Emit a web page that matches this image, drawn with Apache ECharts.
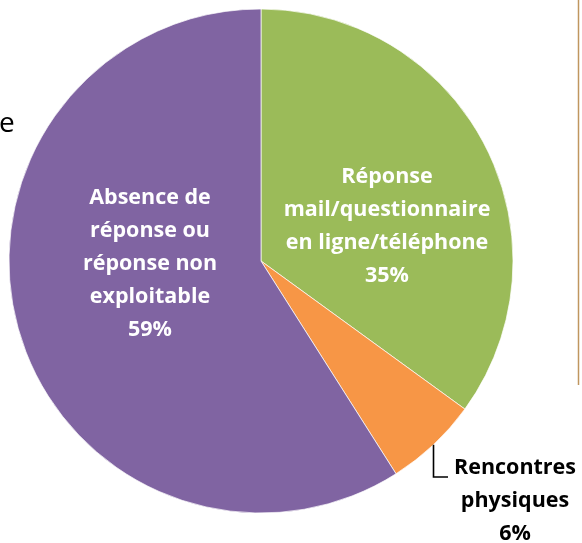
<!DOCTYPE html>
<html>
  <head>
      <meta charset="utf-8">
      <script src="https://cdn.jsdelivr.net/npm/echarts@6/dist/echarts.min.js"></script>
      <style>body{margin:0;background:#fff;}</style>
  </head>
<body>
    <div id="main" style="width: 582px;height:543px;"></div>
    <script type="text/javascript">
        // données
        var categories = [
            'Réponse\nmail/questionnaire\nen ligne/téléphone',
            'Rencontres\nphysiques',
            'Absence de\nréponse ou\nréponse non\nexploitable'
        ];
        var values = [35, 6, 59];
        var colors = ['#9BBB59', '#F79646', '#8064A2'];

        // positions des étiquettes
        var labelPos = [[387, 226], [515, 501], [150, 264]];
        var cx = 261, cy = 261, R = 252;

        var pieData = [];
        for (var i = 0; i < categories.length; i++) {
            pieData.push({
                name: categories[i],
                value: values[i],
                itemStyle: { color: colors[i] },
                label: { color: i == 1 ? '#000' : '#fff' }
            });
        }

        // trait de rappel pour la petite part (angle milieu calculé depuis les valeurs)
        var total = values.reduce(function (a, b) { return a + b; }, 0);
        var midAngle = (values[0] + values[1] / 2) / total * 2 * Math.PI;
        var lx = cx + R * Math.sin(midAngle);
        var ly = cy - R * Math.cos(midAngle);

        var myChart = echarts.init(document.getElementById('main'));
        myChart.setOption({
            animation: false,
            graphic: [
                {
                    type: 'text', left: -1, top: 110,
                    style: { text: 'e', font: '28px "Open Sans"', fill: '#000' }
                },
                {
                    type: 'line',
                    shape: { x1: 578.5, y1: 0, x2: 578.5, y2: 385 },
                    style: { stroke: '#C0965F', lineWidth: 1.5 }
                },
                {
                    type: 'polyline', z: 10,
                    shape: { points: [[lx, ly], [lx, 477], [448, 477]] },
                    style: { stroke: '#000', lineWidth: 1.6, fill: null }
                }
            ],
            series: [{
                type: 'pie',
                center: [cx, cy],
                radius: R,
                startAngle: 90,
                clockwise: true,
                data: pieData,
                itemStyle: { borderColor: '#fff', borderWidth: 0.7 },
                label: {
                    show: true,
                    position: 'inside',
                    fontFamily: 'Open Sans',
                    fontWeight: 'bold',
                    fontSize: 21.5,
                    lineHeight: 33,
                    align: 'center',
                    formatter: function (p) {
                        return p.name + '\n' + p.value + '%';
                    }
                },
                labelLine: { show: false },
                labelLayout: function (p) {
                    var pos = labelPos[p.dataIndex];
                    return { x: pos[0], y: pos[1], align: 'center', verticalAlign: 'middle' };
                }
            }]
        });
    </script>
</body>
</html>
